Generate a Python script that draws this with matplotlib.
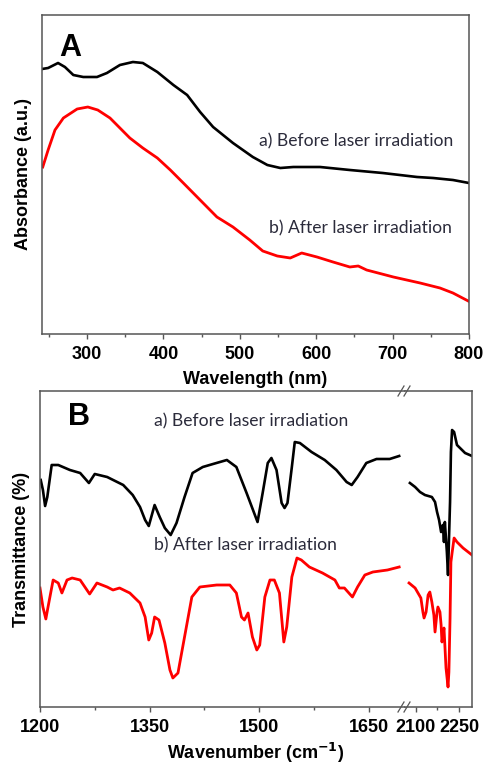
import matplotlib
matplotlib.use('Agg')
import matplotlib.pyplot as plt
from matplotlib.ticker import MultipleLocator, FixedLocator

# ---- panel A: UV-vis absorbance (a.u.) ----
wl_before = [241, 249, 262, 271, 282, 295, 313, 326, 343, 360, 373, 392, 413, 431, 448,
             465, 491, 517, 536, 553, 570, 605, 644, 687, 732, 753, 779, 800]
abs_before = [2.65, 2.66, 2.71, 2.67, 2.59, 2.57, 2.57, 2.61, 2.69, 2.72, 2.71, 2.62, 2.49,
              2.39, 2.22, 2.07, 1.91, 1.77, 1.69, 1.66, 1.67, 1.67, 1.64, 1.61, 1.57, 1.56,
              1.54, 1.51]
wl_after = [242, 249, 258, 269, 287, 301, 314, 330, 343, 356, 373, 392, 409, 426, 448, 470,
            491, 513, 530, 549, 566, 581, 601, 622, 644, 655, 666, 701, 736, 762, 779, 799]
abs_after = [1.67, 1.84, 2.04, 2.16, 2.25, 2.27, 2.24, 2.16, 2.06, 1.96, 1.86, 1.76, 1.64,
             1.51, 1.34, 1.17, 1.07, 0.94, 0.83, 0.78, 0.76, 0.81, 0.77, 0.72, 0.67, 0.68,
             0.64, 0.57, 0.51, 0.46, 0.41, 0.33]
# ---- panel B: FTIR transmittance (a.u.) ----
wn_before = [1201, 1204, 1207, 1210, 1216, 1225, 1241, 1255, 1267, 1275, 1292, 1314, 1327,
             1337, 1344, 1349, 1357, 1364, 1371, 1379, 1387, 1398, 1409, 1423, 1437, 1456,
             1469, 1483, 1498, 1505, 1512, 1517, 1524, 1531, 1535, 1539, 1545, 1549, 1556,
             1572, 1590, 1606, 1620, 1627, 1635, 1647, 1661, 1679, 1692]
tr_before = [2.27, 2.17, 2.01, 2.10, 2.42, 2.42, 2.37, 2.34, 2.24, 2.33, 2.30, 2.22, 2.12,
             2.00, 1.87, 1.81, 2.02, 1.90, 1.79, 1.72, 1.84, 2.10, 2.34, 2.40, 2.43, 2.47,
             2.40, 2.14, 1.85, 2.14, 2.44, 2.49, 2.37, 2.04, 1.99, 2.04, 2.40, 2.65, 2.64,
             2.55, 2.47, 2.37, 2.25, 2.22, 2.30, 2.44, 2.48, 2.48, 2.51]
wn2_before = [2080, 2098, 2115, 2132, 2156, 2167, 2174, 2181, 2188, 2194, 2198, 2201, 2208,
              2212, 2215, 2219, 2222, 2226, 2233, 2243, 2271, 2295]
tr2_before = [2.24, 2.20, 2.15, 2.12, 2.10, 2.05, 1.95, 1.87, 1.75, 1.82, 1.65, 1.85, 1.55,
              1.32, 1.65, 2.05, 2.55, 2.77, 2.75, 2.62, 2.54, 2.51]
wn_after = [1200, 1204, 1208, 1211, 1218, 1225, 1230, 1237, 1244, 1255, 1268, 1278, 1292,
            1300, 1309, 1323, 1337, 1344, 1349, 1353, 1357, 1363, 1371, 1378, 1382, 1389,
            1398, 1408, 1419, 1442, 1460, 1469, 1476, 1480, 1485, 1491, 1497, 1501, 1508,
            1515, 1521, 1528, 1534, 1538, 1545, 1552, 1558, 1569, 1587, 1604, 1610, 1617,
            1628, 1635, 1645, 1656, 1676, 1692]
tr_after = [1.19, 1.00, 0.88, 1.00, 1.27, 1.24, 1.14, 1.27, 1.29, 1.27, 1.13, 1.24, 1.20,
            1.17, 1.19, 1.14, 1.04, 0.90, 0.67, 0.74, 0.90, 0.87, 0.64, 0.37, 0.29, 0.34,
            0.70, 1.10, 1.20, 1.22, 1.22, 1.14, 0.90, 0.87, 0.94, 0.70, 0.57, 0.62, 1.10,
            1.27, 1.27, 1.14, 0.65, 0.80, 1.30, 1.49, 1.47, 1.40, 1.34, 1.27, 1.19, 1.19,
            1.10, 1.20, 1.32, 1.35, 1.37, 1.40]
wn2_after = [2077, 2098, 2108, 2118, 2125, 2129, 2136, 2143, 2149, 2156, 2163, 2167, 2174,
             2177, 2184, 2188, 2191, 2198, 2201, 2205, 2212, 2215, 2219, 2222, 2226, 2233,
             2243, 2264, 2295]
tr2_after = [1.24, 1.19, 1.14, 1.09, 0.95, 0.89, 0.95, 1.12, 1.15, 1.05, 0.92, 0.75, 0.95,
             1.00, 0.95, 0.82, 0.65, 0.79, 0.62, 0.39, 0.20, 0.35, 0.89, 1.45, 1.54, 1.69,
             1.65, 1.59, 1.52]

txt_col = '#2b2b3b'
spine_col = '#555555'
plt.rcParams['font.family'] = 'Liberation Sans'

fig = plt.figure(figsize=(4.84, 7.64), dpi=100)

def style(ax):
    for s in ax.spines.values():
        s.set_color(spine_col)
        s.set_linewidth(1.1)
    ax.set_yticks([])
    ax.tick_params(axis='x', which='major', direction='out', length=3.5, width=1,
                   color=spine_col, labelsize=13, pad=5)
    ax.tick_params(axis='x', which='minor', direction='out', length=2.5, width=1,
                   color=spine_col)
    for lab in ax.get_xticklabels():
        lab.set_fontweight('bold')

# ---------------- A ----------------
axA = fig.add_axes([42/484, 1 - 334/764, 427/484, 319/764])
axA.plot(wl_before, abs_before, color='black', lw=1.9)
axA.plot(wl_after, abs_after, color='red', lw=2.0)
axA.set_xlim(241, 800)
axA.set_ylim(0, 3.19)
axA.xaxis.set_major_locator(MultipleLocator(100))
axA.xaxis.set_minor_locator(MultipleLocator(50))
style(axA)
axA.set_xlabel('Wavelength (nm)', fontsize=13, fontweight='bold', labelpad=6)
axA.set_ylabel('Absorbance (a.u.)', fontsize=13, fontweight='bold', labelpad=7)
axA.text(0.066, 0.897, 'A', transform=axA.transAxes, fontsize=22, fontweight='bold',
         ha='center', va='center')
axA.text(0.736, 0.605, 'a) Before laser irradiation', transform=axA.transAxes,
         fontsize=12.6, family='Lato', color=txt_col, ha='center', va='center')
axA.text(0.746, 0.332, 'b) After laser irradiation', transform=axA.transAxes,
         fontsize=12.6, family='Lato', color=txt_col, ha='center', va='center')

# ---------------- B (broken axis) ----------------
axB1 = fig.add_axes([40/484, 1 - 707/764, 365/484, 316/764])
axB2 = fig.add_axes([405/484, 1 - 707/764, 67/484, 316/764])
axB1.plot(wn_before, tr_before, color='black', lw=1.9)
axB1.plot(wn_after, tr_after, color='red', lw=2.0)
axB2.plot(wn2_before, tr2_before, color='black', lw=1.9)
axB2.plot(wn2_after, tr2_after, color='red', lw=2.0)
axB1.set_xlim(1200, 1700)
axB2.set_xlim(2063, 2295)
for ax in (axB1, axB2):
    ax.set_ylim(0, 3.16)
axB1.xaxis.set_major_locator(FixedLocator([1200, 1350, 1500, 1650]))
axB1.xaxis.set_minor_locator(FixedLocator([1275, 1425, 1575]))
axB2.xaxis.set_major_locator(FixedLocator([2100, 2250]))
axB2.xaxis.set_minor_locator(FixedLocator([2175]))
style(axB1)
style(axB2)
axB1.spines['right'].set_visible(False)
axB2.spines['left'].set_visible(False)

# break marks "//"
for ypx in (707, 391):
    for xc in (401, 407):
        x0 = xc / 484
        y0 = 1 - ypx / 764
        fig.lines.append(plt.Line2D([x0 - 3/484, x0 + 3/484], [y0 - 5/764, y0 + 5/764],
                                    transform=fig.transFigure, color=spine_col, lw=0.9))

axB1.set_ylabel('Transmittance (%)', fontsize=13, fontweight='bold', labelpad=7)
fig.text(256/484, 1 - 753/764, 'Wavenumber (cm$^{\\mathbf{-1}}$)', fontsize=13,
         fontweight='bold', ha='center', va='center')
axB1.text(0.107, 0.918, 'B', transform=axB1.transAxes, fontsize=22, fontweight='bold',
          ha='center', va='center')
axB1.text(0.578, 0.903, 'a) Before laser irradiation', transform=axB1.transAxes,
          fontsize=12.6, family='Lato', color=txt_col, ha='center', va='center')
axB1.text(0.564, 0.513, 'b) After laser irradiation', transform=axB1.transAxes,
          fontsize=12.6, family='Lato', color=txt_col, ha='center', va='center')

fig.savefig('out.png', dpi=100)
